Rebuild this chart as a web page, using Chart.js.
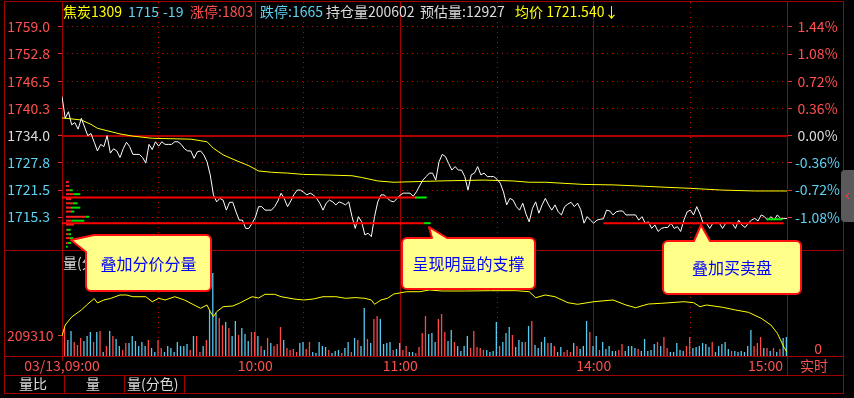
<!DOCTYPE html>
<html>
<head>
<meta charset="utf-8">
<script src="https://cdn.jsdelivr.net/npm/chart.js"></script>
<style>
html,body{margin:0;padding:0;background:#000;overflow:hidden}
#wrap{width:854px;height:398px;position:relative}
canvas{display:block}
</style>
</head>
<body>
<div id="wrap"><canvas id="c" width="854" height="398"></canvas></div>
<script>
// ---------------- data ----------------
const contractName = '焦炭1309';
const lastPrice = 1715;
const priceChange = -19;
const limitUp = 1803;
const limitDown = 1665;
const openInterest = 200602;
const estVolume = 12927;
const avgPriceNow = '1721.540';
const prevClose = 1734;

const timeTickMinutes = [0, 60, 105, 165, 225];
const timeTickLabels = ['03/13,09:00', '10:00', '11:00', '14:00', '15:00'];
const halfHourMinutes = [30, 75, 135, 195];
const priceTicks = [1759.0, 1752.8, 1746.5, 1740.3, 1734.0, 1727.8, 1721.5, 1715.3];
const pctTicks = [1.44, 1.08, 0.72, 0.36, 0, -0.36, -0.72, -1.08];
const oiTicks = [209310];
const volTicks = [0];

// last price per minute (09:00 .. 15:00, 225 trading minutes)
const prices = [
 1743,1738,1739.5,1736.5,1737,1735.5,1738,1736,1734,1734.5,
 1732.5,1730.5,1732,1731.5,1734,1730,1731,1730.5,1729,1731,
 1732.5,1731.5,1729.7,1729.7,1729.7,1729,1727.7,1732,1730.8,1732.6,
 1731.6,1732.6,1732,1732,1732,1732.6,1732.6,1732,1731,1730.5,
 1730.5,1728.8,1730.3,1730.5,1729.6,1728,1725,1720.4,1718.8,1719.6,
 1719.2,1716.9,1718.7,1718.7,1716.5,1714.6,1714.6,1712.7,1712.7,1713.9,
 1715.2,1717.7,1717.7,1716.9,1716.9,1716.9,1717.7,1719,1720.8,1719.5,
 1717.7,1719,1720.5,1721.5,1721.5,1721,1720.4,1720.8,1720.4,1719.6,
 1718.5,1716.9,1718.5,1719.2,1718.8,1718.1,1718.8,1718.5,1718.1,1718.8,
 1715.4,1712.7,1715.4,1714.2,1711.2,1711.6,1710.8,1715.4,1718.8,1720.4,
 1720.4,1719.6,1719,1718.8,1719.6,1720.4,1720.8,1720.8,1720.8,1720.1,
 1721.1,1722.5,1723.8,1724.6,1725.4,1725.4,1723.8,1728,1729.7,1729.2,
 1727.6,1726.1,1726.9,1726.1,1726.1,1724.6,1721.5,1725,1725.4,1726.9,
 1725,1725.4,1724.6,1724.6,1724.6,1724,1723.1,1721.1,1718.1,1719.6,
 1719.2,1717.7,1716.9,1718.5,1716,1714.2,1717.3,1718.8,1716.2,1718.1,
 1719.6,1718.1,1716.9,1718.1,1716.5,1715.8,1717.7,1718.3,1718.7,1717.7,
 1718.5,1717,1713.9,1715.4,1714.6,1713.9,1714.6,1714.8,1714.9,1716.9,
 1716.7,1715.8,1716.5,1716.7,1716.7,1715.8,1715.8,1715.8,1715.8,1714.6,
 1715.4,1713.9,1714.2,1712.7,1713.5,1712,1712.7,1712.9,1712.9,1713.9,
 1712.7,1713.1,1712,1714.6,1716.5,1716.9,1715.8,1717.7,1716,1713.9,
 1713.9,1712.7,1713.9,1713.9,1713.9,1712.7,1713.9,1713.9,1713.9,1712.7,
 1714.6,1713.5,1712.9,1713.9,1714.6,1715,1714.4,1715.8,1715.4,1714.6,
 1715.4,1714.6,1715.8,1715,1715,1715
];

// average price readings
const avgMinutes = [0,6,9,11,18,22,28,40,45,47,50,54,58,61,65,70,75,81,90,93,98,103,117,131,140,145,150,162,171,180,195,205,215,225];
const avgPrices  = [1738.1,1737.6,1736.6,1735.7,1734.4,1733.9,1733.4,1733.2,1732.6,1731.1,1729.6,1728.3,1727.1,1725.9,1725.6,1725.4,1725.1,1725.0,1724.8,1724.4,1723.6,1723.3,1723.6,1723.8,1723.6,1723.3,1723.3,1722.8,1722.7,1722.4,1721.9,1721.5,1721.3,1721.3];

// volume per minute (lots)
const volumes = [
 410,280,160,250,140,110,180,150,200,240,
 140,240,250,40,100,250,200,170,100,60,
 130,130,200,150,100,140,100,160,80,40,
 160,80,40,100,80,40,140,100,100,120,
 60,200,200,40,100,160,460,830,430,380,
 310,340,280,200,350,210,280,220,150,240,
 240,200,100,60,180,130,100,120,290,160,
 80,60,70,40,130,140,70,140,40,30,
 140,100,90,60,30,50,60,30,80,140,
 40,180,160,100,480,170,130,370,400,370,
 120,130,140,60,70,130,60,100,40,40,
 30,90,230,400,220,230,140,370,420,240,
 150,260,140,100,50,100,200,80,250,90,
 80,60,60,40,50,340,100,140,230,290,
 210,90,160,140,140,300,350,110,80,140,
 190,130,130,100,40,90,40,60,40,130,
 100,70,100,350,240,100,200,60,140,70,
 100,50,50,60,120,50,100,100,80,70,
 50,170,50,60,120,140,100,190,80,40,
 40,130,60,50,100,190,80,90,100,130,
 120,90,140,40,100,120,140,70,50,50,
 40,50,40,100,260,100,130,190,80,80,
 50,80,40,70,180,190
];
// r = up minute (red), c = down minute (cyan)
const volDirections = (
 'crccrrrccc'+'rcrcrcrccr'+'rccccccrcc'+'rrcccccccc'+'rcrrcrcccr'+
 'rcrccrcccr'+'rcrcrcrrrc'+'rrrrccrrcc'+'cccrcccrcc'+'rcrccrcrrc'+
 'cccrccrrcc'+'rrrrcccrrr'+'ccrccccrrr'+'rrccccrccc'+'rcccrcrccc'+
 'crcrccrrrc'+'rcccrccrcc'+'cccrrccccr'+'cccccrcrrc'+'ccccrrcccc'+
 'ccrcccccrc'+'cccccrrrcr'+'crcrcc').split('');

// open interest readings
const oiMinutes = [0,1,3,6,8,10,11,13,15,18,20,22,26,28,30,32,35,38,41,43,45,46,47,48,50,53,55,57,59,61,63,66,68,72,75,78,81,85,88,91,94,96,97,99,101,103,107,111,114,118,125,133,141,145,147,150,153,157,160,165,171,175,178,182,186,193,196,198,200,205,209,213,217,220,222,223,224,225];
const oiValues  = [209310,214630,218500,221890,224790,227450,225280,226730,227450,229150,229150,228320,228320,225900,227550,226730,228320,226730,224310,222710,224310,221070,218650,221070,223490,223820,225130,226730,228320,227690,229480,229480,228320,227210,226730,227210,228320,228320,227550,227890,227550,226730,224650,226730,227550,229630,230740,230740,231570,231080,231080,231230,231230,230740,227840,229150,228320,225420,224650,225900,226730,224310,223000,224790,225130,225900,225420,223490,224310,223200,221890,220780,217870,214630,210620,207380,203990,201570];

// price / volume distribution (分价分量)
const depthPrices = [1723.6,1722.7,1721.7,1720.8,1719.7,1718.7,1717.7,1716.8,1715.6,1714.7,1713.8,1712.6,1711.6,1710.7,1709.6,1708.7];
const depthBuy    = [27,33,40,73,50,67,50,50,193,60,80,7,23,33,17,0];
const depthSell   = [0,0,27,70,0,50,93,33,40,123,0,40,27,40,33,17];

// support lines (red) and bid/ask overlay (green)
const supportPrices = [1719.8, 1713.9, 1713.9];
const supportFrom   = [0, 0, 168];
const supportTo     = [110, 112.5, 224];
const bookPrices    = [1719.8, 1713.9, 1714.8];
const bookFrom      = [109.6, 112.4, 218.7];
const bookTo        = [113.2, 114.4, 223.6];

// axis bounds
const PRICE_MIN = 1683.39, PRICE_MAX = 1764.71;
const VOL_MAX = 3540;
const OI_MIN = 199634, OI_MAX = 370899;

// ---------------- styles ----------------
const FONT = '"Noto Sans CJK SC", "Noto Sans", sans-serif';
const RED_TXT = '#ff5050';
const CYAN_TXT = '#5fd2f2';
const WHITE_TXT = '#dcdcdc';
const YELLOW = '#ffff00';
const GRID_SOLID = '#a00000';
const GRID_DOT = '#c80000';
Chart.defaults.font.family = FONT;

function signColor(d) {
  if (Math.abs(d) < 1e-6) return WHITE_TXT;
  return d > 0 ? RED_TXT : CYAN_TXT;
}

// ---------------- datasets ----------------
const datasets = [];
datasets.push({
  type: 'bar', label: 'volume', xAxisID: 'x', yAxisID: 'yVol', order: 10,
  data: volumes.map((v, i) => ({x: i, y: v})),
  backgroundColor: volDirections.map(d => d === 'r' ? '#ff4848' : '#56c9ee'),
  barThickness: 1.3, inflateAmount: 0, borderWidth: 0
});
datasets.push({
  type: 'line', label: 'oi', xAxisID: 'x', yAxisID: 'yOI', order: 9,
  data: oiMinutes.map((m, i) => ({x: m, y: oiValues[i]})),
  borderColor: YELLOW, borderWidth: 1, pointRadius: 0, tension: 0, fill: false
});
datasets.push({
  type: 'bar', label: 'depthBuy', indexAxis: 'y', xAxisID: 'xh', yAxisID: 'y', stack: 'depth', order: 8,
  data: depthPrices.map((p, i) => ({y: p, x: [0, depthBuy[i]]})),
  backgroundColor: '#ff2020', barThickness: 2, inflateAmount: 0, borderWidth: 0
});
datasets.push({
  type: 'bar', label: 'depthSell', indexAxis: 'y', xAxisID: 'xh', yAxisID: 'y', stack: 'depth', order: 8,
  data: depthPrices.map((p, i) => ({y: p, x: [depthBuy[i], depthBuy[i] + depthSell[i]]})),
  backgroundColor: '#00e000', barThickness: 2, inflateAmount: 0, borderWidth: 0
});
datasets.push({
  type: 'line', label: 'avg', xAxisID: 'x', yAxisID: 'y', order: 6,
  data: avgMinutes.map((m, i) => ({x: m, y: avgPrices[i]})),
  borderColor: YELLOW, borderWidth: 1, pointRadius: 0, tension: 0, fill: false
});
datasets.push({
  type: 'line', label: 'price', xAxisID: 'x', yAxisID: 'y', order: 5,
  data: prices.map((p, i) => ({x: i, y: p})),
  borderColor: '#ffffff', borderWidth: 1, pointRadius: 0, tension: 0, fill: false
});
supportPrices.forEach((p, k) => datasets.push({
  type: 'line', label: 'support' + k, xAxisID: 'x', yAxisID: 'y', order: 3,
  data: [{x: supportFrom[k], y: p}, {x: supportTo[k], y: p}],
  borderColor: '#ff0000', borderWidth: 2, pointRadius: 0, fill: false
}));
bookPrices.forEach((p, k) => datasets.push({
  type: 'line', label: 'book' + k, xAxisID: 'x', yAxisID: 'y', order: 2,
  data: [{x: bookFrom[k], y: p}, {x: bookTo[k], y: p}],
  borderColor: '#00ee00', borderWidth: 2, pointRadius: 0, fill: false
}));

// ---------------- decoration plugin ----------------
function calloutPath(c, b, tip, ax, bx, corner) {
  const r = 5;
  c.beginPath();
  if (!corner) {
    c.moveTo(b.x0 + r, b.y0);
    c.lineTo(ax, b.y0);
    c.lineTo(tip.x, tip.y);
    c.lineTo(bx, b.y0);
    c.lineTo(b.x1 - r, b.y0);
    c.arcTo(b.x1, b.y0, b.x1, b.y0 + r, r);
    c.lineTo(b.x1, b.y1 - r);
    c.arcTo(b.x1, b.y1, b.x1 - r, b.y1, r);
    c.lineTo(b.x0 + r, b.y1);
    c.arcTo(b.x0, b.y1, b.x0, b.y1 - r, r);
    c.lineTo(b.x0, b.y0 + r);
    c.arcTo(b.x0, b.y0, b.x0 + r, b.y0, r);
  } else {
    c.moveTo(ax, b.y0);
    c.lineTo(b.x1 - r, b.y0);
    c.arcTo(b.x1, b.y0, b.x1, b.y0 + r, r);
    c.lineTo(b.x1, b.y1 - r);
    c.arcTo(b.x1, b.y1, b.x1 - r, b.y1, r);
    c.lineTo(b.x0 + r, b.y1);
    c.arcTo(b.x0, b.y1, b.x0, b.y1 - r, r);
    c.lineTo(b.x0, bx);
    c.lineTo(tip.x, tip.y);
  }
  c.closePath();
}
function drawCallout(c, b, tip, ax, bx, corner, text) {
  c.save();
  calloutPath(c, b, tip, ax, bx, corner);
  c.fillStyle = '#ffff8a';
  c.fill();
  c.lineWidth = 2;
  c.strokeStyle = '#ff1010';
  c.lineJoin = 'round';
  c.stroke();
  c.fillStyle = '#0000ff';
  c.font = '16px ' + FONT;
  c.textAlign = 'center';
  c.textBaseline = 'middle';
  c.fillText(text, (b.x0 + b.x1) / 2, (b.y0 + b.y1) / 2 + 0.5);
  c.restore();
}

const decor = {
  id: 'decor',
  beforeDraw(chart) {
    const c = chart.ctx;
    c.save();
    c.fillStyle = '#000';
    c.fillRect(0, 0, chart.width, chart.height);
    c.restore();
  },
  beforeDatasetsDraw(chart) {
    const c = chart.ctx;
    c.save();
    c.strokeStyle = GRID_SOLID;
    c.lineWidth = 1;
    const line = (x1, y1, x2, y2) => { c.beginPath(); c.moveTo(x1, y1); c.lineTo(x2, y2); c.stroke(); };
    c.strokeRect(4.5, 1.5, 839, 392);
    line(4, 250.5, 844, 250.5);
    line(4, 356.5, 844, 356.5);
    line(4, 375.5, 844, 375.5);
    line(62.5, 1, 62.5, 361);
    line(787.5, 1, 787.5, 375);
    line(64.5, 375, 64.5, 393);
    line(124.5, 375, 124.5, 393);
    line(184.5, 375, 184.5, 393);
    c.restore();
  },
  afterDraw(chart) {
    const c = chart.ctx;
    c.save();
    c.font = '14px ' + FONT;
    c.textBaseline = 'middle';
    c.textAlign = 'left';
    const header = [
      [contractName, 63, YELLOW],
      [String(lastPrice), 128, CYAN_TXT],
      [String(priceChange), 163, CYAN_TXT],
      ['涨停:' + limitUp, 190, RED_TXT],
      ['跌停:' + limitDown, 260, CYAN_TXT],
      ['持仓量' + openInterest, 326, WHITE_TXT],
      ['预估量:' + estVolume, 420, WHITE_TXT],
      ['均价 ' + avgPriceNow + '↓', 515, YELLOW]
    ];
    header.forEach(([t, x, col]) => { c.fillStyle = col; c.fillText(t, x, 11.5); });
    // volume pane title
    c.fillStyle = WHITE_TXT;
    c.fillText('量(分色)', 63, 263);
    // bottom tabs
    c.textAlign = 'center';
    c.fillText('量比', 33, 384);
    c.fillText('量', 93, 384);
    c.textAlign = 'left';
    c.fillText('量(分色)', 127, 384);
    c.textAlign = 'center';
    c.fillStyle = RED_TXT;
    c.fillText('实时', 814, 366);
    // scrollbar handle
    c.fillStyle = '#5a5a5a';
    c.beginPath();
    c.moveTo(854, 170); c.lineTo(845, 170); c.arcTo(841, 170, 841, 174, 4);
    c.lineTo(841, 218); c.arcTo(841, 222, 845, 222, 4); c.lineTo(854, 222); c.closePath();
    c.fill();
    c.strokeStyle = '#ff4040'; c.lineWidth = 1;
    c.beginPath(); c.moveTo(849, 193); c.lineTo(846, 196); c.lineTo(849, 199); c.stroke();
    c.restore();
    // callouts
    drawCallout(c, {x0: 86, y0: 235, x1: 211, y1: 291}, {x: 71, y: 240}, 94, 252, true, '叠加分价分量');
    drawCallout(c, {x0: 402, y0: 238, x1: 535, y1: 289}, {x: 429, y: 227}, 432, 447, false, '呈现明显的支撑');
    drawCallout(c, {x0: 663, y0: 241, x1: 801, y1: 294}, {x: 701, y: 225}, 694, 710, false, '叠加买卖盘');
  }
};

// ---------------- chart ----------------
const tickFont = {family: FONT, size: 14};
new Chart(document.getElementById('c'), {
  type: 'line',
  data: {datasets},
  options: {
    responsive: false,
    animation: false,
    devicePixelRatio: 1,
    events: [],
    layout: {padding: {top: 2, left: 0, right: 0, bottom: 0}},
    plugins: {legend: {display: false}, tooltip: {enabled: false}},
    scales: {
      x: {
        type: 'linear', position: 'bottom', weight: 1, min: 0, max: 225, offset: false,
        afterBuildTicks: s => { s.ticks = timeTickMinutes.map(v => ({value: v})); },
        afterFit: s => { s.height = 42; s.paddingLeft = 0; s.paddingRight = 0; },
        ticks: {autoSkip: false, maxRotation: 0, minRotation: 0, padding: 1, color: RED_TXT, font: tickFont,
          callback: (v, i) => i < timeTickLabels.length - 1 ? timeTickLabels[i] : ''},
        grid: {color: GRID_SOLID, lineWidth: 1, drawTicks: false, offset: false},
        border: {display: false}
      },
      xR: {
        type: 'linear', position: 'bottom', weight: 0, min: 0, max: 225, offset: false,
        afterBuildTicks: s => { s.ticks = [{value: timeTickMinutes[timeTickMinutes.length - 1]}]; },
        afterFit: s => { s.height = 0; s.paddingLeft = 0; s.paddingRight = 0; },
        ticks: {autoSkip: false, maxRotation: 0, minRotation: 0, mirror: true, padding: -18, align: 'end', labelOffset: -4,
          color: RED_TXT, font: tickFont, callback: () => timeTickLabels[timeTickLabels.length - 1]},
        grid: {display: false, drawTicks: false},
        border: {display: false}
      },
      x2: {
        type: 'linear', position: 'top', min: 0, max: 225, offset: false,
        afterBuildTicks: s => { s.ticks = halfHourMinutes.map(v => ({value: v})); },
        afterFit: s => { s.height = 0; s.paddingLeft = 0; s.paddingRight = 0; },
        ticks: {display: false},
        grid: {color: GRID_DOT, lineWidth: 1, drawTicks: false, offset: false},
        border: {display: false, dash: [1, 4]}
      },
      xh: {type: 'linear', display: false, min: -40, max: 7210, stacked: false},
      y: {
        type: 'linear', position: 'left', weight: 10, min: PRICE_MIN, max: PRICE_MAX, offset: false,
        afterBuildTicks: s => { s.ticks = priceTicks.map(v => ({value: v})); },
        afterFit: s => { s.width = 62; s.paddingTop = 0; s.paddingBottom = 0; },
        ticks: {padding: 8, font: tickFont, autoSkip: false,
          color: ctx => ctx.tick ? signColor(ctx.tick.value - prevClose) : RED_TXT,
          callback: v => v.toFixed(1)},
        grid: {offset: false, color: GRID_DOT, lineWidth: 1, drawTicks: true, tickLength: 4, tickColor: '#e03030', tickBorderDash: []},
        border: {display: false, dash: [1, 4]}
      },
      yOI: {
        type: 'linear', position: 'left', weight: 0, min: OI_MIN, max: OI_MAX,
        afterBuildTicks: s => { s.ticks = oiTicks.map(v => ({value: v})); },
        afterFit: s => { s.width = 0; s.paddingTop = 0; s.paddingBottom = 0; },
        ticks: {mirror: true, crossAlign: 'near', padding: -55, font: tickFont, color: RED_TXT, autoSkip: false, callback: v => String(v)},
        grid: {drawOnChartArea: false, drawTicks: true, tickLength: 4, tickColor: '#e03030'},
        border: {display: false}
      },
      y0: {
        type: 'linear', position: 'left', weight: 0, min: PRICE_MIN, max: PRICE_MAX,
        afterBuildTicks: s => { s.ticks = [{value: prevClose}]; },
        afterFit: s => { s.width = 0; s.paddingTop = 0; s.paddingBottom = 0; },
        ticks: {display: false},
        grid: {color: '#b00000', lineWidth: 2, drawTicks: false},
        border: {display: false}
      },
      yVol: {
        type: 'linear', position: 'right', weight: 0, min: 0, max: VOL_MAX,
        afterBuildTicks: s => { s.ticks = volTicks.map(v => ({value: v})); },
        afterFit: s => { s.width = 0; s.paddingTop = 0; s.paddingBottom = 0; },
        ticks: {mirror: true, crossAlign: 'center', padding: 35, labelOffset: -7, font: tickFont, color: RED_TXT, autoSkip: false, callback: v => String(v)},
        grid: {display: false, drawTicks: false},
        border: {display: false}
      },
      yPct: {
        type: 'linear', position: 'right', weight: 1,
        min: (PRICE_MIN / prevClose - 1) * 100, max: (PRICE_MAX / prevClose - 1) * 100,
        afterBuildTicks: s => { s.ticks = pctTicks.map(v => ({value: v})); },
        afterFit: s => { s.width = 67; s.paddingTop = 0; s.paddingBottom = 0; },
        ticks: {padding: 3, crossAlign: 'center', font: tickFont, autoSkip: false,
          color: ctx => ctx.tick ? signColor(ctx.tick.value) : RED_TXT,
          callback: v => v.toFixed(2) + '%'},
        grid: {drawOnChartArea: false, drawTicks: true, tickLength: 5, tickColor: '#e03030'},
        border: {display: false}
      }
    }
  },
  plugins: [decor]
});
</script>
</body>
</html>
